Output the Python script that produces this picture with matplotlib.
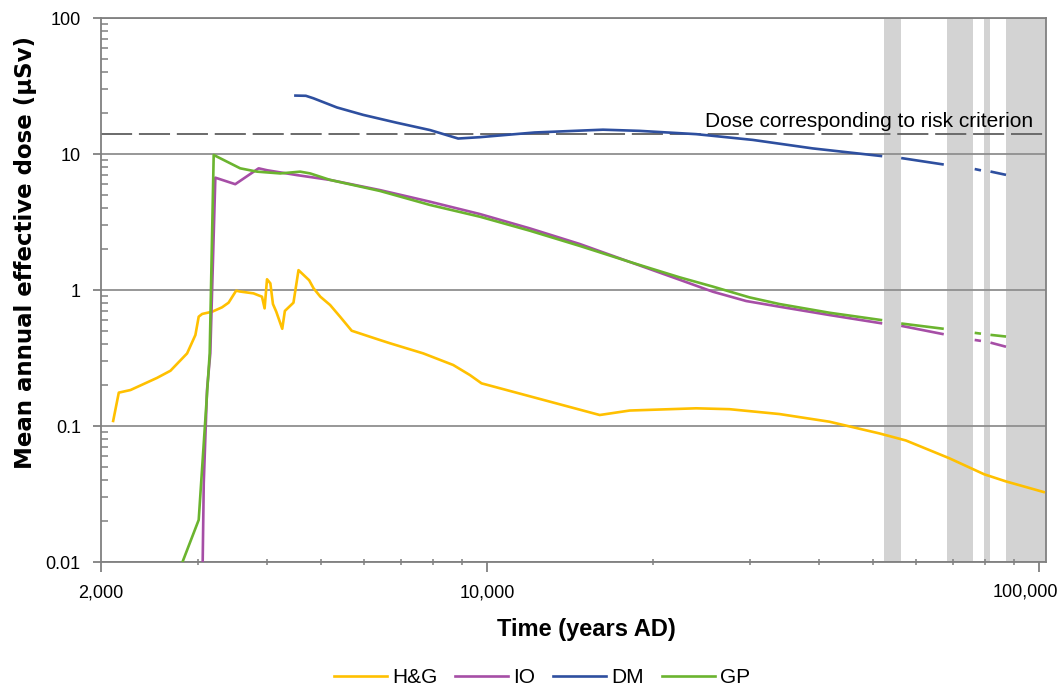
import numpy as np
import matplotlib
matplotlib.use("Agg")
import matplotlib.pyplot as plt
from matplotlib.ticker import FixedLocator, NullFormatter

plt.rcParams["font.family"] = ["Liberation Sans", "DejaVu Sans"]

nan = np.nan

# H&G
hg_t = [2104, 2154, 2262, 2527, 2672, 2864, 2965, 3006, 3050, 3180, 3313, 3405,
        3514, 3571, 3778, 3914, 3957, 3997, 4053, 4097, 4154, 4259, 4306, 4463,
        4558, 4765, 4853, 4993, 5200, 5420, 5690, 6400, 6676, 7670, 8690, 9317,
        9780, 16010, 18140, 23940, 27500, 33880, 41720, 51370, 57410, 68770,
        79550, 87060, 102000]
hg_d = [0.109, 0.176, 0.184, 0.226, 0.255, 0.342, 0.467, 0.637, 0.667, 0.693,
        0.746, 0.807, 0.989, 0.975, 0.945, 0.893, 0.733, 1.20, 1.12, 0.789,
        0.693, 0.519, 0.702, 0.807, 1.40, 1.18, 1.03, 0.893, 0.776, 0.637,
        0.502, 0.429, 0.406, 0.342, 0.281, 0.237, 0.206, 0.1205, 0.130, 0.135,
        0.133, 0.1225, 0.1076, 0.0883, 0.0783, 0.058, 0.0442, 0.0392, 0.0327]

# IO
io_t = [3040, 3070, 3112, 3155, 3222, 3501, 3860, 3997, 4527, 5200, 6403, 7890,
        9712, 11960, 14730, 18140, 22340, 25660, 29490, 33880, 41720, 51730,
        54000, 56600, 66870, 72000, 76900, 78100, 80500, 82130, 86700]
io_d = [0.002, 0.038, 0.184, 0.342, 6.7, 6.0, 7.85, 7.6, 7.0, 6.45, 5.43, 4.46,
        3.62, 2.84, 2.18, 1.61, 1.19, 0.972, 0.830, 0.754, 0.655, 0.570,
        nan, 0.543, 0.475, nan, 0.428, 0.424, nan, 0.408, 0.385]

# DM
dm_t = [4500, 4700, 4850, 5350, 5970, 6860, 7890, 8870, 9710, 12200, 16230,
        18910, 23950, 30310, 38910, 51730, 54000, 56600, 66870, 72000, 76900,
        78100, 80500, 82130, 86700]
dm_d = [26.9, 26.8, 25.7, 22.0, 19.4, 17.0, 15.0, 13.0, 13.3, 14.4, 15.1,
        14.8, 14.0, 12.7, 11.0, 9.67, nan, 9.31, 8.40, nan, 7.72, 7.62, nan,
        7.40, 7.06]

# GP
gp_t = [2804, 3006, 3147, 3200, 3574, 3834, 4224, 4590, 4786, 5200, 6403, 7890,
        9712, 11960, 14730, 18140, 22340, 25660, 29900, 33880, 41720, 51730,
        54000, 56600, 66870, 72000, 76900, 78100, 80500, 82130, 86700]
gp_d = [0.0098, 0.0204, 0.342, 9.84, 7.85, 7.42, 7.2, 7.42, 7.2, 6.45, 5.35,
        4.22, 3.46, 2.73, 2.11, 1.61, 1.24, 1.06, 0.883, 0.789, 0.681, 0.602,
        nan, 0.566, 0.520, nan, 0.483, 0.479, nan, 0.467, 0.456]

# shaded periods
bands = [(52450, 56220), (68080, 76060), (79550, 81460), (87060, 103000)]
risk_dose = 14

fig = plt.figure(figsize=(10.61, 6.88), dpi=100)
ax = fig.add_axes([0.0952, 0.1831, 0.8907, 0.7907])

for a, b in bands:
    ax.axvspan(a, b, color="#d3d3d3", lw=0, zorder=0.2)

ax.plot(hg_t, hg_d, color="#ffc000", lw=1.9, label="H&G", zorder=3)
ax.plot(io_t, io_d, color="#a64ea6", lw=1.9, label="IO", zorder=3)
ax.plot(dm_t, dm_d, color="#2e4f9f", lw=1.9, label="DM", zorder=3)
ax.plot(gp_t, gp_d, color="#6bb42f", lw=1.9, label="GP", zorder=3)

ax.axhline(risk_dose, color="#6a6a6a", lw=1.4, dashes=(16, 3.5), zorder=2)
ax.text(0.986, 0.800, "Dose corresponding to risk criterion", transform=ax.transAxes,
        ha="right", va="baseline", fontsize=15)

ax.set_xscale("log")
ax.set_yscale("log")
ax.set_xlim(2000, 103000)
ax.set_ylim(0.01, 100)

ax.xaxis.set_major_locator(FixedLocator([2000, 10000, 100000]))
ax.set_xticklabels(["2,000", "10,000", ""])
ax.annotate("100,000", xy=(100000, 0), xycoords=("data", "axes fraction"),
            xytext=(-14, -30), textcoords="offset pixels",
            ha="center", va="center", fontsize=13)
ax.xaxis.set_minor_locator(FixedLocator([3000, 4000, 5000, 6000, 7000, 8000, 9000,
                                         20000, 30000, 40000, 50000, 60000, 70000,
                                         80000, 90000]))
ax.xaxis.set_minor_formatter(NullFormatter())
ax.yaxis.set_major_locator(FixedLocator([0.01, 0.1, 1, 10, 100]))
ax.set_yticklabels(["0.01", "0.1", "1", "10", "100"])
ax.yaxis.set_minor_locator(FixedLocator([m * 10.0 ** e for e in range(-2, 2) for m in range(2, 10)]))
ax.yaxis.set_minor_formatter(NullFormatter())

ax.tick_params(axis="x", which="major", direction="out", length=7, width=1.3,
               color="#808080", labelsize=13, pad=9)
ax.tick_params(axis="x", which="minor", direction="inout", length=5, width=1.1,
               color="#808080")
ax.tick_params(axis="y", which="major", direction="out", length=6, width=1.3,
               color="#808080", labelsize=13, pad=8.5)
ax.tick_params(axis="y", which="minor", direction="in", length=5, width=1.1,
               color="#808080")

ax.grid(True, which="major", axis="y", color="#8f8f8f", lw=1.3)
ax.set_axisbelow(True)
for s in ax.spines.values():
    s.set_color("#808080")
    s.set_linewidth(1.3)

ax.set_xlabel("Time (years AD)", fontsize=17, fontweight="bold")
ax.xaxis.set_label_coords(0.514, -0.103)
ax.set_ylabel("Mean annual effective dose (µSv)", fontsize=16.5, fontweight="bold",
              family=["DejaVu Sans"])
ax.yaxis.set_label_coords(-0.0677, 0.569)

fig.legend(loc="center", bbox_to_anchor=(0.511, 0.015), ncol=4, frameon=False,
           fontsize=15, handlelength=2.55, handletextpad=0.25, columnspacing=0.85)

fig.savefig("out.png", dpi=100)
